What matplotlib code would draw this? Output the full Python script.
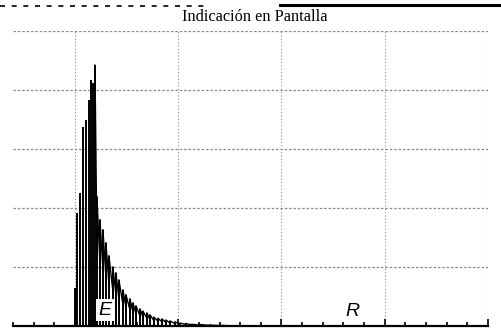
import matplotlib
matplotlib.use("Agg")
import matplotlib.pyplot as plt
from matplotlib.lines import Line2D
import numpy as np

# Spike positions (major x divisions) and heights (y grid units)
spike_x = [0.005, 0.02, 0.05, 0.077, 0.107, 0.136, 0.155, 0.174, 0.194,
           0.213, 0.242, 0.271, 0.300, 0.329, 0.368, 0.397, 0.426, 0.465,
           0.494, 0.533, 0.562, 0.591, 0.630, 0.659, 0.697, 0.726, 0.765,
           0.804, 0.843, 0.881, 0.920, 0.969, 1.017, 1.075, 1.133, 1.211,
           1.308, 1.404, 1.500]
spike_h = [0.64, 1.92, 2.25, 3.37, 3.49, 3.83, 4.17, 4.12, 4.42,
           2.19, 1.80, 1.63, 1.41, 1.19, 1.00, 0.90, 0.78, 0.61,
           0.53, 0.46, 0.39, 0.34, 0.29, 0.25, 0.22, 0.19, 0.15,
           0.13, 0.12, 0.10, 0.085, 0.07, 0.05, 0.04, 0.03, 0.025,
           0.015, 0.01, 0.008]
# sawtooth troughs after the peak (spikes 9 onward)
trough_h = [1.3, 1.05, 0.95, 0.82, 0.7, 0.58, 0.52, 0.45, 0.36, 0.31,
            0.27, 0.23, 0.2, 0.17, 0.15, 0.13, 0.11, 0.09, 0.08, 0.07,
            0.06, 0.05, 0.04, 0.03, 0.025, 0.02, 0.015, 0.01, 0.007, 0.005]
peak_index = 8

title = "Indicación en Pantalla"
labels = ["E", "R"]
label_x = [0.29, 2.69]
label_y = [0.27, 0.25]

fig = plt.figure(figsize=(5.01, 3.30), dpi=100)
ax = fig.add_axes([13/501, 4/330, 475/501, 295/330])
ax.set_xlim(-0.6, 4.0)
ax.set_ylim(0, 5)

# grid
for gx in range(0, 5):
    ax.axvline(gx, color="#8a8a8a", lw=0.8, ls=(0, (1, 2)), zorder=1)
for gy in range(1, 6):
    ax.axhline(gy, color="#8a8a8a", lw=0.9, ls=(0, (2, 1.5)), zorder=1)

ax.vlines(spike_x, 0, spike_h, color="black", lw=1.4, zorder=3)
# sawtooth: from each top down to the trough on the next spike
zx, zy = [], []
for i, t in enumerate(trough_h):
    j = peak_index + 1 + i
    zx += [spike_x[j - 1], spike_x[j], None]
    zy += [spike_h[j - 1], t, None]
zx = [np.nan if v is None else v for v in zx]
zy = [np.nan if v is None else v for v in zy]
ax.plot(zx, zy, color="black", lw=1.0, zorder=3)

for s, x, y in zip(labels, label_x, label_y):
    ax.text(x, y, s, fontsize=14, family="Liberation Sans", style="italic",
            ha="center", va="center", zorder=4,
            bbox=dict(facecolor="white", edgecolor="none", pad=2) if s == "E" else None)

for sp in ["left", "right", "top"]:
    ax.spines[sp].set_visible(False)
ax.spines["bottom"].set_linewidth(1.6)
ax.spines["bottom"].set_zorder(5)
ax.set_xticks(np.arange(0, 4.01, 1))
ax.set_xticks(np.arange(-0.6, 4.01, 0.2), minor=True)
ax.tick_params(axis="x", which="major", direction="in", length=5, width=1.2, labelbottom=False)
ax.tick_params(axis="x", which="minor", direction="in", length=3, width=1.2)
ax.set_yticks([])

fig.text(255/501, 1 - 17/330, title, ha="center", va="center",
         family="Liberation Serif", fontsize=11.8)

# scan border at top
fig.add_artist(Line2D([0, 210/501], [1 - 6/330] * 2, color="black", lw=1.2,
                      ls=(0, (3, 4))))
fig.add_artist(Line2D([280/501, 1], [1 - 5/330] * 2, color="black", lw=2.2))

fig.savefig("out.png", dpi=100)
